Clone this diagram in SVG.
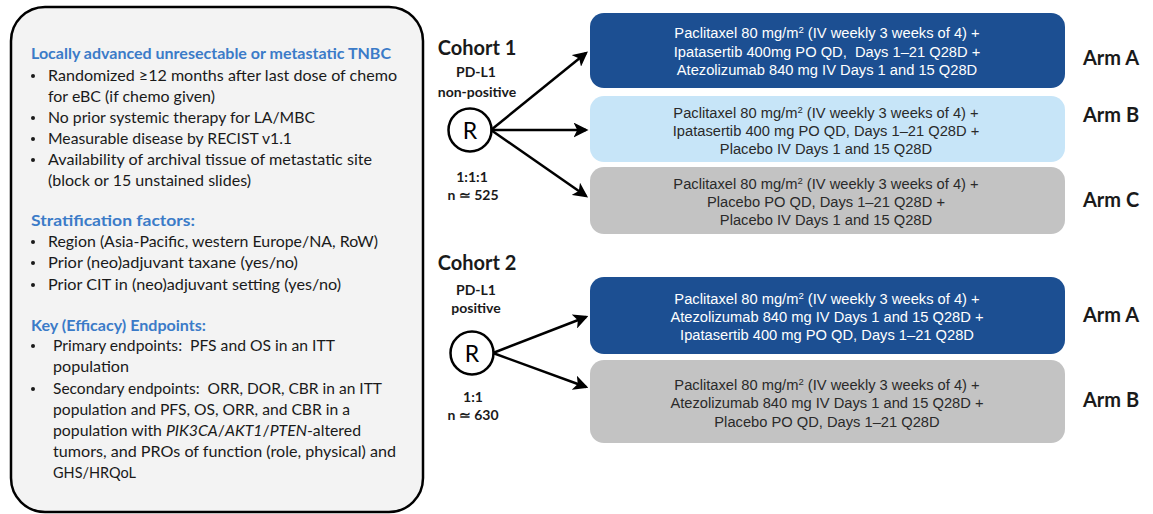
<svg xmlns="http://www.w3.org/2000/svg" width="1153" height="514" viewBox="0 0 1153 514">
<style>
.lt{font-family:Lato,"Liberation Sans",sans-serif;font-size:16px;fill:#1a1a1a}
.hd{font-family:Lato,"Liberation Sans",sans-serif;font-size:16px;font-weight:bold;fill:#3b7bc8}
.bx{font-family:"Liberation Sans",Arial,sans-serif;font-size:14.7px;text-anchor:middle}
.wt{fill:#ffffff}
.dk{fill:#2a2a2a}
.co{font-family:Lato,"Liberation Sans",sans-serif;font-weight:bold;fill:#1a1a1a}
.arm{font-family:Lato,"Liberation Sans",sans-serif;font-weight:bold;font-size:20px;fill:#1a1a1a}
.sup{font-size:9.5px}
.con{stroke:#000;stroke-width:2.5;fill:none}
</style>
<defs>
<marker id="ah" viewBox="0 0 12 12" refX="10" refY="6" markerWidth="15" markerHeight="15" markerUnits="userSpaceOnUse" orient="auto">
<path d="M0,0 L12,6 L0,12 L3,6 Z" fill="#000"/>
</marker>
</defs>

<g id="criteria">
<rect x="11" y="7" width="412" height="505" rx="34" ry="34" fill="#f3f3f3" stroke="#000" stroke-width="2.5"/>
<text class="hd" x="31" y="59" textLength="360" lengthAdjust="spacingAndGlyphs">Locally advanced unresectable or metastatic TNBC</text>
<circle cx="33" cy="76" r="2" fill="#1a1a1a"/>
<text class="lt" x="48" y="81" textLength="349" lengthAdjust="spacingAndGlyphs">Randomized ≥12 months after last dose of chemo</text>
<text class="lt" x="48" y="102" textLength="167" lengthAdjust="spacingAndGlyphs">for eBC (if chemo given)</text>
<circle cx="33" cy="118" r="2" fill="#1a1a1a"/>
<text class="lt" x="48" y="123" textLength="267" lengthAdjust="spacingAndGlyphs">No prior systemic therapy for LA/MBC</text>
<circle cx="33" cy="139" r="2" fill="#1a1a1a"/>
<text class="lt" x="48" y="144" textLength="244" lengthAdjust="spacingAndGlyphs">Measurable disease by RECIST v1.1</text>
<circle cx="33" cy="160" r="2" fill="#1a1a1a"/>
<text class="lt" x="48" y="165" textLength="324" lengthAdjust="spacingAndGlyphs">Availability of archival tissue of metastatic site</text>
<text class="lt" x="48" y="186" textLength="203" lengthAdjust="spacingAndGlyphs">(block or 15 unstained slides)</text>

<text class="hd" x="31" y="226" textLength="164" lengthAdjust="spacingAndGlyphs">Stratification factors:</text>
<circle cx="33" cy="242" r="2" fill="#1a1a1a"/>
<text class="lt" x="48" y="247" textLength="330" lengthAdjust="spacingAndGlyphs">Region (Asia-Pacific, western Europe/NA, RoW)</text>
<circle cx="33" cy="263" r="2" fill="#1a1a1a"/>
<text class="lt" x="48" y="268" textLength="250" lengthAdjust="spacingAndGlyphs">Prior (neo)adjuvant taxane (yes/no)</text>
<circle cx="33" cy="285" r="2" fill="#1a1a1a"/>
<text class="lt" x="48" y="290" textLength="293" lengthAdjust="spacingAndGlyphs">Prior CIT in (neo)adjuvant setting (yes/no)</text>

<text class="hd" x="31" y="331" textLength="175" lengthAdjust="spacingAndGlyphs">Key (Efficacy) Endpoints:</text>
<circle cx="33" cy="346" r="2" fill="#1a1a1a"/>
<text class="lt" x="53" y="351" textLength="282" lengthAdjust="spacingAndGlyphs" xml:space="preserve">Primary endpoints:  PFS and OS in an ITT</text>
<text class="lt" x="53" y="372" textLength="76" lengthAdjust="spacingAndGlyphs">population</text>
<circle cx="33" cy="389" r="2" fill="#1a1a1a"/>
<text class="lt" x="53" y="394" textLength="329" lengthAdjust="spacingAndGlyphs" xml:space="preserve">Secondary endpoints:  ORR, DOR, CBR in an ITT</text>
<text class="lt" x="53" y="415" textLength="297" lengthAdjust="spacingAndGlyphs">population and PFS, OS, ORR, and CBR in a</text>
<text class="lt" x="53" y="436" textLength="308" lengthAdjust="spacingAndGlyphs">population with <tspan font-style="italic">PIK3CA</tspan>/<tspan font-style="italic">AKT1</tspan>/<tspan font-style="italic">PTEN</tspan>-altered</text>
<text class="lt" x="53" y="457" textLength="343" lengthAdjust="spacingAndGlyphs">tumors, and PROs of function (role, physical) and</text>
<text class="lt" x="53" y="478" textLength="83" lengthAdjust="spacingAndGlyphs">GHS/HRQoL</text>
</g>

<g id="cohort1">
<text class="co" x="477" y="55" font-size="20" text-anchor="middle">Cohort 1</text>
<text class="co" x="476" y="77" font-size="14" text-anchor="middle">PD-L1</text>
<text class="co" x="477" y="97" font-size="14" text-anchor="middle">non-positive</text>
<circle cx="470" cy="130" r="21.5" fill="#fff" stroke="#000" stroke-width="2.5"/>
<text x="470" y="138.5" font-family="Lato,'Liberation Sans',sans-serif" font-size="23" text-anchor="middle" fill="#000">R</text>
<text class="co" x="472" y="182" font-size="14" text-anchor="middle">1:1:1</text>
<text class="co" x="473" y="200" font-size="14" text-anchor="middle">n ≃ 525</text>
</g>

<g id="cohort2">
<text class="co" x="477" y="270" font-size="20" text-anchor="middle">Cohort 2</text>
<text class="co" x="476" y="295" font-size="14" text-anchor="middle">PD-L1</text>
<text class="co" x="476" y="313" font-size="14" text-anchor="middle">positive</text>
<circle cx="472" cy="353" r="21.5" fill="#fff" stroke="#000" stroke-width="2.5"/>
<text x="472" y="361.5" font-family="Lato,'Liberation Sans',sans-serif" font-size="23" text-anchor="middle" fill="#000">R</text>
<text class="co" x="473" y="402" font-size="14" text-anchor="middle">1:1</text>
<text class="co" x="473" y="420" font-size="14" text-anchor="middle">n ≃ 630</text>
</g>

<g id="connectors">
<line class="con" x1="491" y1="130" x2="586" y2="53" marker-end="url(#ah)"/>
<line class="con" x1="491" y1="130" x2="586" y2="130" marker-end="url(#ah)"/>
<line class="con" x1="491" y1="130" x2="586" y2="196" marker-end="url(#ah)"/>
<line class="con" x1="493" y1="353" x2="586" y2="317" marker-end="url(#ah)"/>
<line class="con" x1="493" y1="353" x2="586" y2="387" marker-end="url(#ah)"/>
</g>

<g id="c1-armA">
<rect x="590" y="13" width="475" height="75" rx="14" fill="#1c4f92"/>
<text class="bx wt" x="827" y="38">Paclitaxel 80 mg/m<tspan class="sup" dy="-5">2</tspan><tspan dy="5"> (IV weekly 3 weeks of 4) +</tspan></text>
<text class="bx wt" x="827" y="57" xml:space="preserve">Ipatasertib 400mg PO QD,  Days 1–21 Q28D +</text>
<text class="bx wt" x="827" y="75">Atezolizumab 840 mg IV Days 1 and 15 Q28D</text>
<text class="arm" x="1083" y="65">Arm A</text>
</g>

<g id="c1-armB">
<rect x="590" y="96" width="475" height="66" rx="14" fill="#c7e5f8"/>
<text class="bx dk" x="826" y="118">Paclitaxel 80 mg/m<tspan class="sup" dy="-5">2</tspan><tspan dy="5"> (IV weekly 3 weeks of 4) +</tspan></text>
<text class="bx dk" x="826" y="136">Ipatasertib 400 mg PO QD, Days 1–21 Q28D +</text>
<text class="bx dk" x="826" y="154">Placebo IV Days 1 and 15 Q28D</text>
<text class="arm" x="1083" y="122">Arm B</text>
</g>

<g id="c1-armC">
<rect x="590" y="167" width="475" height="67" rx="14" fill="#c3c3c3"/>
<text class="bx dk" x="826" y="189">Paclitaxel 80 mg/m<tspan class="sup" dy="-5">2</tspan><tspan dy="5"> (IV weekly 3 weeks of 4) +</tspan></text>
<text class="bx dk" x="826" y="207">Placebo PO QD, Days 1–21 Q28D +</text>
<text class="bx dk" x="826" y="225">Placebo IV Days 1 and 15 Q28D</text>
<text class="arm" x="1083" y="207">Arm C</text>
</g>

<g id="c2-armA">
<rect x="590" y="277" width="475" height="77" rx="14" fill="#1c4f92"/>
<text class="bx wt" x="827" y="304">Paclitaxel 80 mg/m<tspan class="sup" dy="-5">2</tspan><tspan dy="5"> (IV weekly 3 weeks of 4) +</tspan></text>
<text class="bx wt" x="827" y="322">Atezolizumab 840 mg IV Days 1 and 15 Q28D +</text>
<text class="bx wt" x="827" y="340">Ipatasertib 400 mg PO QD, Days 1–21 Q28D</text>
<text class="arm" x="1083" y="322">Arm A</text>
</g>

<g id="c2-armB">
<rect x="590" y="360" width="475" height="83" rx="14" fill="#c3c3c3"/>
<text class="bx dk" x="827" y="390">Paclitaxel 80 mg/m<tspan class="sup" dy="-5">2</tspan><tspan dy="5"> (IV weekly 3 weeks of 4) +</tspan></text>
<text class="bx dk" x="827" y="408">Atezolizumab 840 mg IV Days 1 and 15 Q28D +</text>
<text class="bx dk" x="827" y="427">Placebo PO QD, Days 1–21 Q28D</text>
<text class="arm" x="1083" y="407">Arm B</text>
</g>
</svg>
